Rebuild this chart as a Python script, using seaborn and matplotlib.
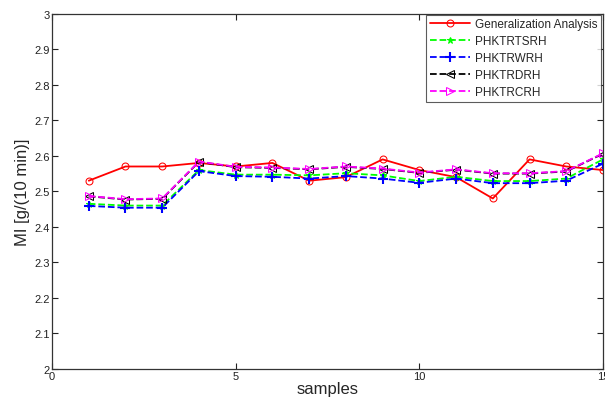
import numpy as np
import pandas as pd
import matplotlib
matplotlib.use("Agg")
import matplotlib.pyplot as plt
import seaborn as sns

samples = list(range(1, 16))
generalization = [2.53, 2.57, 2.57, 2.58, 2.57, 2.58, 2.53, 2.54, 2.59, 2.56, 2.54, 2.48, 2.59, 2.57, 2.56]
phktrtsrh = [2.465, 2.46, 2.46, 2.56, 2.547, 2.547, 2.545, 2.551, 2.545, 2.529, 2.541, 2.529, 2.529, 2.536, 2.59]
phktrwrh = [2.459, 2.454, 2.454, 2.557, 2.543, 2.541, 2.536, 2.543, 2.536, 2.524, 2.536, 2.523, 2.523, 2.530, 2.578]
phktrdrh = [2.486, 2.477, 2.479, 2.583, 2.568, 2.566, 2.562, 2.569, 2.563, 2.552, 2.561, 2.550, 2.550, 2.556, 2.606]
phktrcrh = [2.487, 2.478, 2.480, 2.584, 2.569, 2.567, 2.563, 2.570, 2.564, 2.553, 2.562, 2.551, 2.551, 2.557, 2.607]

series_names = ["Generalization Analysis", "PHKTRTSRH", "PHKTRWRH", "PHKTRDRH", "PHKTRCRH"]
series_values = [generalization, phktrtsrh, phktrwrh, phktrdrh, phktrcrh]
x_ticks = [0, 5, 10, 15]
y_ticks = [2.0, 2.1, 2.2, 2.3, 2.4, 2.5, 2.6, 2.7, 2.8, 2.9, 3.0]
y_tick_labels = ["2", "2.1", "2.2", "2.3", "2.4", "2.5", "2.6", "2.7", "2.8", "2.9", "3"]

styles = [
    dict(color="#ff0000", linestyle="-", marker="o", fillstyle="none", markersize=5),
    dict(color="#00ff00", linestyle="--", marker="*", markersize=5),
    dict(color="#0000ff", linestyle="--", marker="+", markersize=7, markeredgewidth=1.5),
    dict(color="#000000", linestyle="--", marker="<", fillstyle="none", markersize=5.5),
    dict(color="#ff00ff", linestyle="--", marker=">", fillstyle="none", markersize=5.5),
]

df = pd.concat(
    [pd.DataFrame({"samples": samples, "MI": vals, "series": name})
     for name, vals in zip(series_names, series_values)],
    ignore_index=True,
)

sns.set_style("white")
plt.rcParams["font.family"] = ["Liberation Sans", "DejaVu Sans"]

fig = plt.figure(figsize=(6.05, 4.02), dpi=100)
ax = fig.add_axes([0.086, 0.0796, 0.9107, 0.8838])

for name, st in zip(series_names, styles):
    sub = df[df["series"] == name]
    sns.lineplot(data=sub, x="samples", y="MI", ax=ax, label=name,
                 linewidth=1.3, markeredgecolor=st["color"], **st)

ax.set_xlim(0, 15)
ax.set_ylim(2, 3)
ax.set_xticks(x_ticks)
ax.set_xticklabels([str(t) for t in x_ticks])
ax.set_yticks(y_ticks)
ax.set_yticklabels(y_tick_labels)
ax.tick_params(direction="in", length=4, width=0.8, labelsize=8,
               colors="#222222", top=True, right=True, bottom=True, left=True,
               pad=1.5)
for sp in ax.spines.values():
    sp.set_visible(True)
    sp.set_color("#333333")
    sp.set_linewidth(0.9)

ax.set_xlabel("samples", fontsize=12, labelpad=0)
ax.set_ylabel("MI [g/(10 min)]", fontsize=12, labelpad=3)

leg = ax.legend(loc="upper right", fontsize=8.5, handlelength=3.4,
                frameon=True, fancybox=False, borderpad=0.3,
                labelspacing=0.42, handletextpad=0.45,
                borderaxespad=0.0,
                bbox_to_anchor=(0.997, 0.997))
leg.get_frame().set_edgecolor("#333333")
leg.get_frame().set_linewidth(0.8)

fig.savefig("out.png", dpi=100)
